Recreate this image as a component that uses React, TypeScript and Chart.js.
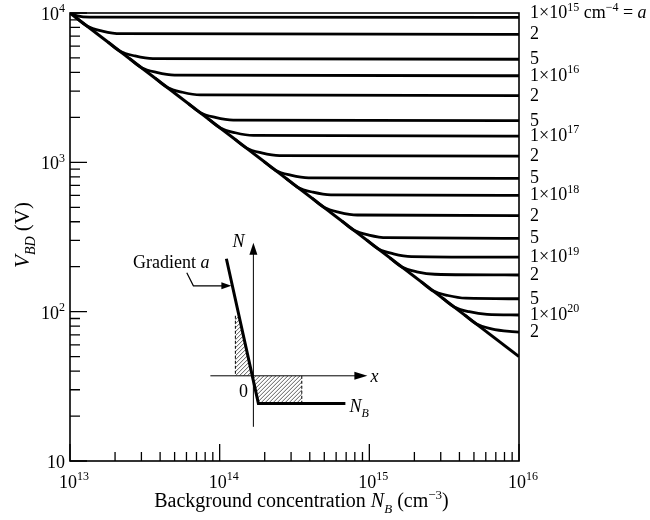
import React, { useEffect, useRef } from 'react';
import { Chart, registerables } from 'chart.js';

Chart.register(...registerables);

// ---- axis ticks ----
const xTickValues = [1e13, 1e14, 1e15, 1e16];
const xTickExps = ['13', '14', '15', '16'];
const yTickValues = [10, 100, 1000, 10000];
const yTickExps = ['', '2', '3', '4'];
const minorMultipliers = [2, 3, 4, 5, 6, 7, 8, 9];
const xMinorDecades = [1e13, 1e14, 1e15];
const yMinorDecades = [10, 100, 1000];

// ---- abrupt-junction limit (diagonal) ----
const diagonalN = [1e13, 1e16];
const diagonalV = [10000, 50];

// ---- gradient labels (a, cm^-4) ----
const gradMantissa = [1, 2, 5, 1, 2, 5, 1, 2, 5, 1, 2, 5, 1, 2, 5, 1, 2];
const gradExp = [15, 15, 15, 16, 16, 16, 17, 17, 17, 18, 18, 18, 19, 19, 19, 20, 20];
const plateauV = [9344, 7200, 4900, 3800, 2800, 1900, 1500, 1100, 780, 600, 440, 310, 232, 176, 122, 95, 73];

// ---- each graded-junction curve (N_B, V_BD) ----
const curveN: number[][] = [
  [1e13, 1.12e13, 1.35e13, 1e16],
  [1.087e13, 1.306e13, 1.646e13, 2.169e13, 1e16],
  [1.795e13, 2.157e13, 2.718e13, 3.582e13, 1e16],
  [2.501e13, 3.006e13, 3.786e13, 4.991e13, 1e16],
  [3.724e13, 4.476e13, 5.639e13, 7.432e13, 1e16],
  [6.167e13, 7.412e13, 9.337e13, 1.231e14, 1e16],
  [8.397e13, 1.009e14, 1.271e14, 1.676e14, 1e16],
  [1.259e14, 1.513e14, 1.906e14, 2.512e14, 1e16],
  [1.968e14, 2.366e14, 2.98e14, 3.928e14, 1e16],
  [2.773e14, 3.333e14, 4.199e14, 5.535e14, 1e16],
  [4.16e14, 5.0e14, 6.298e14, 8.301e14, 1e16],
  [6.563e14, 7.889e14, 9.937e14, 1.31e15, 1e16],
  [9.572e14, 1.151e15, 1.449e15, 1.91e15, 1e16],
  [1.371e15, 1.648e15, 2.075e15, 2.736e15, 1e16],
  [2.213e15, 2.66e15, 3.351e15, 4.417e15, 1e16],
  [3.069e15, 3.689e15, 4.647e15, 6.125e15, 1e16],
  [4.326e15, 5.2e15, 6.55e15, 8.63e15, 1e16],
];
const curveV: number[][] = [
  [10000, 9560, 9370, 9344],
  [9382, 8148, 7574, 7267, 7200],
  [6385, 5545, 5155, 4946, 4900],
  [4951, 4300, 3998, 3835, 3800],
  [3648, 3169, 2946, 2826, 2800],
  [2476, 2150, 1999, 1918, 1900],
  [1955, 1698, 1578, 1514, 1500],
  [1433, 1245, 1157, 1110, 1100],
  [1016, 883, 821, 787, 780],
  [782, 679, 631, 606, 600],
  [573, 498, 463, 444, 440],
  [404, 351, 326, 313, 310],
  [302, 263, 244, 234, 232],
  [229, 199, 185, 178, 176],
  [159, 138, 128.3, 123.1, 122],
  [123.8, 107.5, 99.9, 95.9, 95],
  [95.1, 82.6, 76.8, 73.7, 73],
];

// inset anchor (origin of the schematic's axes) in data space
const insetOriginN = 1.68e14;
const insetOriginV = 37.2;

const FAM = '"Liberation Serif", "Times New Roman", Times, serif';

type Seg = { t: string; it?: boolean; sup?: boolean; sub?: boolean };

function segFont(s: Seg, size: number) {
  const sz = s.sup || s.sub ? Math.round(size * 0.66) : size;
  return `${s.it ? 'italic ' : ''}${sz}px ${FAM}`;
}

function richWidth(ctx: CanvasRenderingContext2D, segs: Seg[], size: number) {
  let w = 0;
  for (const s of segs) {
    ctx.font = segFont(s, size);
    w += ctx.measureText(s.t).width;
  }
  return w;
}

function drawRich(ctx: CanvasRenderingContext2D, segs: Seg[], x: number, y: number, size: number, align: 'left' | 'center' | 'right' = 'left') {
  const w = richWidth(ctx, segs, size);
  let cx = align === 'left' ? x : align === 'center' ? x - w / 2 : x - w;
  ctx.textAlign = 'left';
  ctx.textBaseline = 'alphabetic';
  for (const s of segs) {
    ctx.font = segFont(s, size);
    const dy = s.sup ? -size * 0.42 : s.sub ? size * 0.28 : 0;
    ctx.fillText(s.t, cx, y + dy);
    cx += ctx.measureText(s.t).width;
  }
}

function arrowHead(ctx: CanvasRenderingContext2D, tx: number, ty: number, dir: 'up' | 'right', len: number, half: number) {
  ctx.beginPath();
  if (dir === 'up') {
    ctx.moveTo(tx, ty);
    ctx.lineTo(tx - half, ty + len);
    ctx.lineTo(tx + half, ty + len);
  } else {
    ctx.moveTo(tx, ty);
    ctx.lineTo(tx - len, ty - half);
    ctx.lineTo(tx - len, ty + half);
  }
  ctx.closePath();
  ctx.fill();
}

function hatch(ctx: CanvasRenderingContext2D, poly: [number, number][]) {
  ctx.save();
  ctx.beginPath();
  poly.forEach(([x, y], i) => (i ? ctx.lineTo(x, y) : ctx.moveTo(x, y)));
  ctx.closePath();
  ctx.clip();
  const xs = poly.map((p) => p[0]);
  const ys = poly.map((p) => p[1]);
  const x0 = Math.min(...xs) - 80, x1 = Math.max(...xs) + 80;
  const y0 = Math.min(...ys), y1 = Math.max(...ys);
  ctx.strokeStyle = '#333';
  ctx.lineWidth = 0.8;
  ctx.beginPath();
  for (let x = x0; x < x1; x += 4) {
    ctx.moveTo(x, y1);
    ctx.lineTo(x + (y1 - y0), y0);
  }
  ctx.stroke();
  ctx.restore();
}

const decor = {
  id: 'decor',
  afterDraw(chart: any) {
    const ctx: CanvasRenderingContext2D = chart.ctx;
    const xs = chart.scales.x;
    const ys = chart.scales.y;
    const { left, right, top, bottom } = chart.chartArea;
    ctx.save();
    ctx.fillStyle = '#000';
    ctx.strokeStyle = '#000';

    // frame
    ctx.lineWidth = 1.6;
    ctx.strokeRect(left, top, right - left, bottom - top);

    // inward ticks
    ctx.lineWidth = 1.3;
    ctx.beginPath();
    for (const d of xMinorDecades) for (const m of minorMultipliers) {
      const px = xs.getPixelForValue(d * m);
      ctx.moveTo(px, bottom);
      ctx.lineTo(px, bottom - 9);
    }
    for (const v of xTickValues) {
      const px = xs.getPixelForValue(v);
      ctx.moveTo(px, bottom);
      ctx.lineTo(px, bottom - 17);
    }
    for (const d of yMinorDecades) for (const m of minorMultipliers) {
      const py = ys.getPixelForValue(d * m);
      ctx.moveTo(left, py);
      ctx.lineTo(left + 10, py);
    }
    for (const v of yTickValues) {
      const py = ys.getPixelForValue(v);
      ctx.moveTo(left, py);
      ctx.lineTo(left + 17, py);
    }
    ctx.stroke();

    // tick labels
    const TS = 18;
    xTickValues.forEach((v, i) => {
      const px = xs.getPixelForValue(v);
      drawRich(ctx, [{ t: '10' }, { t: xTickExps[i], sup: true }], px + 4, bottom + 27, TS, 'center');
    });
    yTickValues.forEach((v, i) => {
      const py = ys.getPixelForValue(v);
      const segs: Seg[] = yTickExps[i] ? [{ t: '10' }, { t: yTickExps[i], sup: true }] : [{ t: '10' }];
      drawRich(ctx, segs, left - 5, py + 7, TS, 'right');
    });

    // axis titles
    drawRich(
      ctx,
      [
        { t: 'Background concentration ' },
        { t: 'N', it: true },
        { t: 'B', it: true, sub: true },
        { t: ' (cm' },
        { t: '\u22123', sup: true },
        { t: ')' },
      ],
      (left + right) / 2 + 7,
      507,
      20,
      'center'
    );
    ctx.save();
    ctx.translate(29, (top + bottom) / 2 - 2);
    ctx.rotate(-Math.PI / 2);
    drawRich(ctx, [{ t: 'V', it: true }, { t: 'BD', it: true, sub: true }, { t: ' (V)' }], 0, 0, 21, 'center');
    ctx.restore();

    // right-side gradient labels
    plateauV.forEach((v, i) => {
      const py = ys.getPixelForValue(v);
      const segs: Seg[] =
        gradMantissa[i] === 1 ? [{ t: '1\u00d710' }, { t: String(gradExp[i]), sup: true }] : [{ t: String(gradMantissa[i]) }];
      if (i === 0) segs.push({ t: ' cm' }, { t: '\u22124', sup: true }, { t: ' = ' }, { t: 'a', it: true });
      const off = i === 0 ? -5 : -1;
      drawRich(ctx, segs, right + 11, py + 6 + off, 18, 'left');
    });

    // inset schematic
    const ox = xs.getPixelForValue(insetOriginN);
    const oy = ys.getPixelForValue(insetOriginV);
    // hatched areas
    hatch(ctx, [[ox - 18, oy - 60], [ox - 14.4, oy - 60], [ox - 1, oy], [ox - 18, oy]]);
    hatch(ctx, [[ox - 1, oy], [ox + 5, oy + 27.6], [ox + 48.4, oy + 27.6], [ox + 48.4, oy]]);
    ctx.strokeStyle = '#000';
    ctx.fillStyle = '#000';
    ctx.lineWidth = 1;
    ctx.setLineDash([3, 2]);
    ctx.beginPath();
    ctx.moveTo(ox - 18, oy - 60);
    ctx.lineTo(ox - 18, oy);
    ctx.moveTo(ox + 48.4, oy);
    ctx.lineTo(ox + 48.4, oy + 27.6);
    ctx.stroke();
    ctx.setLineDash([]);
    // axes
    ctx.lineWidth = 1;
    ctx.beginPath();
    ctx.moveTo(ox, oy + 51);
    ctx.lineTo(ox, oy - 122);
    ctx.moveTo(ox - 43, oy);
    ctx.lineTo(ox + 103, oy);
    ctx.stroke();
    arrowHead(ctx, ox, oy - 133, 'up', 12, 4);
    arrowHead(ctx, ox + 114, oy, 'right', 13, 4);
    // doping profile
    ctx.lineWidth = 3;
    ctx.lineJoin = 'miter';
    ctx.beginPath();
    ctx.moveTo(ox - 27, oy - 117);
    ctx.lineTo(ox + 5, oy + 27.6);
    ctx.lineTo(ox + 92, oy + 27.6);
    ctx.stroke();
    // leader arrow
    ctx.lineWidth = 1.2;
    ctx.beginPath();
    ctx.moveTo(ox - 66.6, oy - 103);
    ctx.lineTo(ox - 60, oy - 90);
    ctx.lineTo(ox - 31, oy - 90);
    ctx.stroke();
    arrowHead(ctx, ox - 22, oy - 90, 'right', 10, 3.5);
    // inset text
    drawRich(ctx, [{ t: 'Gradient ' }, { t: 'a', it: true }], ox - 44, oy - 108, 18, 'right');
    drawRich(ctx, [{ t: 'N', it: true }], ox - 15, oy - 129, 18, 'center');
    drawRich(ctx, [{ t: 'x', it: true }], ox + 117, oy + 6, 18, 'left');
    drawRich(ctx, [{ t: '0' }], ox - 10, oy + 21, 18, 'center');
    drawRich(ctx, [{ t: 'N', it: true }, { t: 'B', it: true, sub: true }], ox + 96, oy + 36, 18, 'left');

    ctx.restore();
  },
};

export default function App() {
  const ref = useRef<HTMLCanvasElement>(null);
  useEffect(() => {
    document.body.style.margin = '0';
    const canvas = ref.current!;
    const datasets: any[] = [
      {
        label: 'diagonal',
        data: diagonalN.map((n, i) => ({ x: n, y: diagonalV[i] })),
        borderColor: '#000',
        borderWidth: 3,
        tension: 0,
      },
      ...curveN.map((ns, k) => ({
        label: `a=${gradMantissa[k]}e${gradExp[k]}`,
        data: ns.map((n, i) => ({ x: n, y: curveV[k][i] })),
        borderColor: '#000',
        borderWidth: 2.8,
        cubicInterpolationMode: 'monotone',
      })),
    ];
    const chart = new Chart(canvas, {
      type: 'line',
      data: { datasets },
      options: {
        animation: false,
        responsive: false,
        devicePixelRatio: 1,
        layout: { padding: { left: 70, right: 131, top: 13, bottom: 59 } },
        plugins: { legend: { display: false }, tooltip: { enabled: false } },
        elements: { point: { radius: 0 }, line: { fill: false, borderCapStyle: 'butt' } },
        scales: {
          x: {
            type: 'logarithmic',
            min: 1e13,
            max: 1e16,
            ticks: { display: false },
            grid: { display: false, drawTicks: false },
            border: { display: false },
          },
          y: {
            type: 'logarithmic',
            min: 10,
            max: 10000,
            ticks: { display: false },
            grid: { display: false, drawTicks: false },
            border: { display: false },
          },
        },
      } as any,
      plugins: [decor],
    });
    return () => chart.destroy();
  }, []);
  return (
    <div style={{ width: 650, height: 520, background: '#fff' }}>
      <canvas ref={ref} width={650} height={520} style={{ display: 'block' }} />
    </div>
  );
}
